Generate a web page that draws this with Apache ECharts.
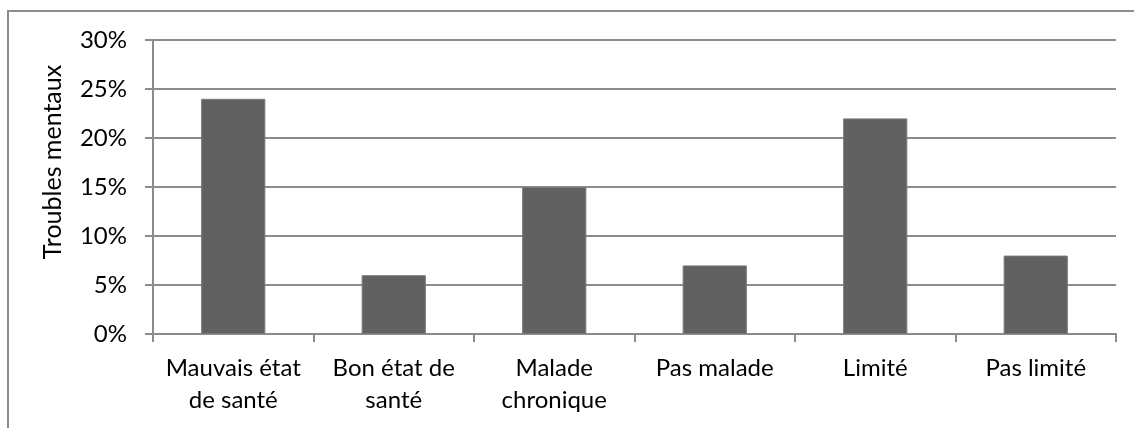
<!DOCTYPE html>
<html>
<head>
<meta charset="utf-8">
<script src="https://cdn.jsdelivr.net/npm/echarts@6/dist/echarts.min.js"></script>
<style>
  html, body { margin: 0; padding: 0; background: #fff; }
  #chart { width: 1134px; height: 428px; }
</style>
</head>
<body>
<div id="chart"></div>
<script>
// categories et valeurs (en %)
var categories = ['Mauvais état\nde santé', 'Bon état de\nsanté', 'Malade\nchronique', 'Pas malade', 'Limité', 'Pas limité'];
var troubles = [24, 6, 15, 7, 22, 8];
var yTicks = [0, 5, 10, 15, 20, 25, 30];

var font = 'Lato';
var gris = '#8c8c8c';

var chart = echarts.init(document.getElementById('chart'));
var option = {
    animation: false,
    grid: { left: 153, right: 18, top: 40, bottom: 94, containLabel: false },
    graphic: [
        { // cadre du graphique (haut et gauche visibles)
            type: 'rect',
            shape: { x: 8, y: 11, width: 1300, height: 600 },
            style: { fill: 'none', stroke: gris, lineWidth: 2 },
            silent: true
        },
        {
            type: 'text',
            x: 53, y: 162,
            rotation: Math.PI / 2,
            style: {
                text: 'Troubles mentaux',
                font: '25px ' + font,
                fill: '#000',
                align: 'center',
                verticalAlign: 'middle'
            }
        }
    ],
    xAxis: {
        type: 'category',
        data: categories,
        boundaryGap: true,
        axisLine: { lineStyle: { color: gris, width: 2 } },
        axisTick: { show: true, length: 8, interval: 0, lineStyle: { color: gris, width: 2 } },
        axisLabel: {
            interval: 0,
            margin: 18,
            color: '#000',
            fontFamily: font,
            fontSize: 24,
            lineHeight: 32
        }
    },
    yAxis: {
        type: 'value',
        min: yTicks[0],
        max: yTicks[yTicks.length - 1],
        interval: 5,
        axisLine: { show: true, lineStyle: { color: gris, width: 2 } },
        axisTick: { show: true, length: 8, lineStyle: { color: gris, width: 2 } },
        splitLine: { lineStyle: { color: gris, width: 2 } },
        axisLabel: {
            margin: 26,
            color: '#000',
            fontFamily: font,
            fontSize: 24,
            formatter: '{value}%'
        }
    },
    series: [{
        type: 'bar',
        data: troubles,
        barWidth: '40%',
        itemStyle: { color: '#616161', borderColor: '#7a7a7a', borderWidth: 1 }
    }]
};
chart.setOption(option);
</script>
</body>
</html>
